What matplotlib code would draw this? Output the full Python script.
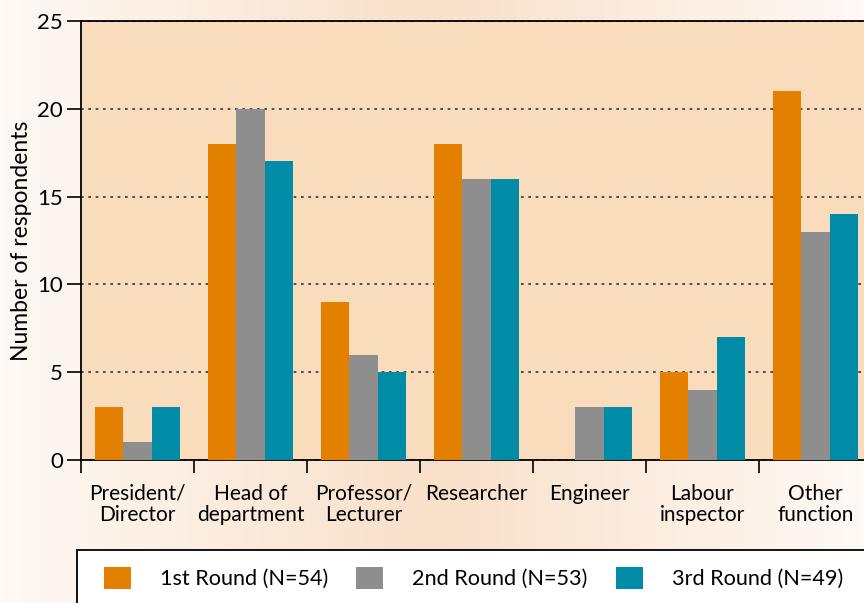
import numpy as np
import matplotlib.pyplot as plt
from matplotlib.patches import Rectangle
from matplotlib.colors import LinearSegmentedColormap

plt.rcParams['font.family'] = ['Lato', 'DejaVu Sans']

categories = ["President/\nDirector", "Head of\ndepartment", "Professor/\nLecturer",
              "Researcher", "Engineer", "Labour\ninspector", "Other\nfunction"]
round1 = [3, 18, 9, 18, 0, 5, 21]
round2 = [1, 20, 6, 16, 3, 4, 13]
round3 = [3, 17, 5, 16, 3, 7, 14]
labels = ["1st Round (N=54)", "2nd Round (N=53)", "3rd Round (N=49)"]
colors = ["#E38000", "#8E8E8E", "#008BA6"]

W, H = 864, 603
fig = plt.figure(figsize=(W / 100, H / 100), dpi=100)

# background gradient
bg = fig.add_axes([0, 0, 1, 1], zorder=-10)
cmap = LinearSegmentedColormap.from_list("bg", ["#FEF9F5", "#F9E0C9", "#FEF9F5"])
grad = np.linspace(0, 1, 256).reshape(1, -1)
bg.imshow(grad, aspect="auto", cmap=cmap, extent=[0, 1, 0, 1])
bg.set_axis_off()

ax = fig.add_axes([81 / W, 1 - 460 / H, 791 / W, 439 / H])
ax.set_facecolor("#F8DCBB")

x = np.arange(len(categories))
bw = 0.25
for i, (vals, c) in enumerate(zip([round1, round2, round3], colors)):
    ax.bar(x + (i - 1) * bw, vals, width=bw, color=c, zorder=3, label=labels[i])

ax.set_xlim(-0.5, len(categories) - 0.5)
ax.set_ylim(0, 25)
ax.set_yticks([0, 5, 10, 15, 20, 25])
ax.yaxis.grid(True, color="#333333", linestyle=(0, (1.6, 2.8)), linewidth=1.2, zorder=1)
ax.set_axisbelow(True)

ax.set_xticks(np.arange(len(categories)) - 0.5)
ax.set_xticklabels([])
ax.set_xticks(x, minor=True)
ax.set_xticklabels(categories, minor=True, fontsize=15, linespacing=1.1)
ax.tick_params(axis="x", which="major", length=9, width=1.2, direction="out")
ax.tick_params(axis="x", which="minor", length=0, pad=17)
ax.tick_params(axis="y", length=10, width=1.2, labelsize=16, pad=3)

for s in ["left", "top", "bottom"]:
    ax.spines[s].set_linewidth(1.3)
ax.spines["right"].set_visible(False)

ax.set_ylabel("Number of respondents", fontsize=16.5, labelpad=4)

# legend box
fig.patches.append(Rectangle((77 / W, -0.02), 0.95, (H - 550) / H + 0.02,
                             transform=fig.transFigure, facecolor="white",
                             edgecolor="black", linewidth=1.3, zorder=5))
leg = fig.legend(loc="center left", bbox_to_anchor=(104 / W, 1 - 578 / H), ncol=3,
                 frameon=False, fontsize=15.6, handlelength=1.25, handleheight=1.25,
                 handletextpad=1.33, columnspacing=1.3, borderpad=0, borderaxespad=0)
leg.set_zorder(6)

fig.savefig("out.png", dpi=100)
